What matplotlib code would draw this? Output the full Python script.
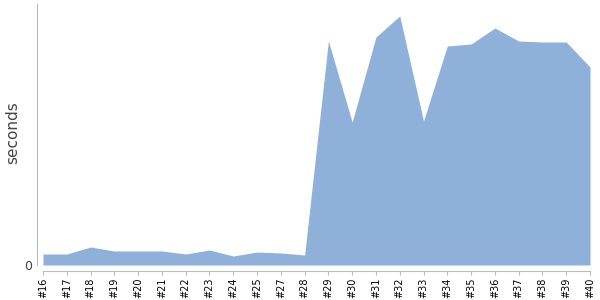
import numpy as np
import matplotlib
matplotlib.use("Agg")
import matplotlib.pyplot as plt

builds = ["#16", "#17", "#18", "#19", "#20", "#21", "#22", "#23", "#24", "#25", "#27", "#28",
          "#29", "#30", "#31", "#32", "#33", "#34", "#35", "#36", "#37", "#38", "#39", "#40"]
seconds = [11, 11, 18, 14, 14, 14, 11, 15, 9, 13, 12, 10,
           224, 143, 228, 249, 144, 219, 221, 237, 224, 223, 223, 198]

fig = plt.figure(figsize=(6, 3), dpi=100)
ax = fig.add_axes([43 / 600, 35 / 300, 547 / 600, 261 / 300])

# spines first: set_position resets the tick objects
for side in ["top", "right"]:
    ax.spines[side].set_visible(False)
for side in ["left", "bottom"]:
    ax.spines[side].set_color("#bbbbbb")
    ax.spines[side].set_position(("outward", 4))

x = np.arange(len(builds))
ax.fill_between(x, 0, seconds, color="#8fb1d9", linewidth=0)

ax.set_xlim(0, len(builds) - 1)
ax.set_ylim(0, 261)
ax.set_xticks(x)
ax.set_xticklabels(builds, rotation=90, fontsize=7, color="black")
ax.set_yticks([0])
ax.set_yticklabels(["0"], fontsize=9, color="#444444")

ax.tick_params(axis="x", length=3, color="#bbbbbb", pad=2)
ax.tick_params(axis="y", length=0, pad=4)

ax.set_ylabel("seconds", fontsize=11, color="#444444")
ax.yaxis.set_label_coords(-23 / 547, 0.506)

fig.savefig("out.png", dpi=100)
